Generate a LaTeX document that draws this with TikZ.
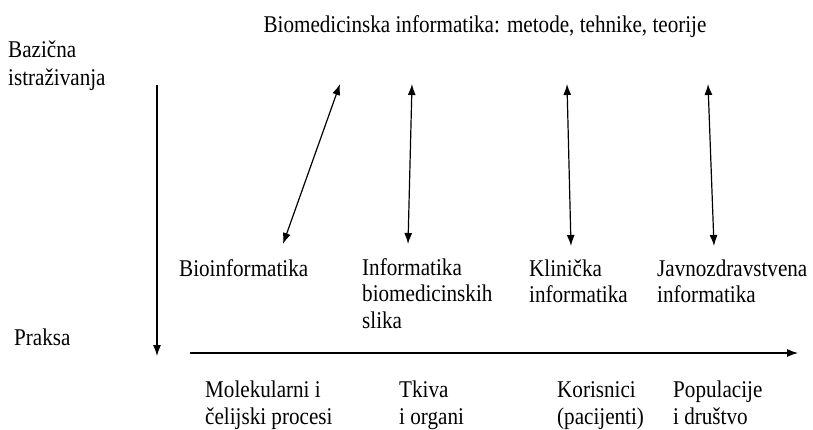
\documentclass[tikz,border=0pt]{standalone}
\usepackage{fontspec}
\setmainfont{Liberation Serif}[FakeStretch=0.88]
\usetikzlibrary{arrows.meta}
\begin{document}
\begin{tikzpicture}[x=1pt,y=-1pt,
  lbl/.style={anchor=base west, inner sep=0pt, align=left, font=\fontsize{24}{26.5}\selectfont},
  tip/.tip={Latex[length=11pt,width=8pt]},
  arr/.style={line width=1.2pt, -tip},
  darr/.style={line width=1.2pt, tip-tip}]
\useasboundingbox (0,0) rectangle (813,430);
\node[lbl, anchor=base] (title) at (485,33) {Biomedicinska informatika: metode, tehnike, teorije};
\node[lbl, font=\fontsize{24}{28}\selectfont] (baz) at (8,86) {Bazična\\istraživanja};
\node[lbl] (praksa) at (14,345) {Praksa};
\coordinate (vtop) at (157,85);
\coordinate (vbot) at (157,356);
\draw[arr] (vtop) -- (vbot);
\coordinate (hl) at (190,353);
\coordinate (hr) at (798,353);
\draw[arr] (hl) -- (hr);
\node[lbl] (bio) at (179,276) {Bioinformatika};
\node[lbl] (img) at (362,328) {Informatika\\biomedicinskih\\slika};
\node[lbl] (klin) at (529,302.5) {Klinička\\informatika};
\node[lbl] (javn) at (657,302.5) {Javnozdravstvena\\informatika};
\node[lbl] (mol) at (205,424) {Molekularni i\\čelijski procesi};
\node[lbl] (tk) at (399,424) {Tkiva\\i organi};
\node[lbl] (kor) at (557,424) {Korisnici\\(pacijenti)};
\node[lbl] (pop) at (673,424) {Populacije\\i društvo};
\coordinate (a1t) at (340,84); \coordinate (a1b) at (283,244);
\coordinate (a2t) at (412,84); \coordinate (a2b) at (408,244);
\coordinate (a3t) at (567,84); \coordinate (a3b) at (571,246);
\coordinate (a4t) at (708,84); \coordinate (a4b) at (714,246);
\draw[darr] (a1b) -- (a1t);
\draw[darr] (a2b) -- (a2t);
\draw[darr] (a3b) -- (a3t);
\draw[darr] (a4b) -- (a4t);
\end{tikzpicture}
\end{document}
